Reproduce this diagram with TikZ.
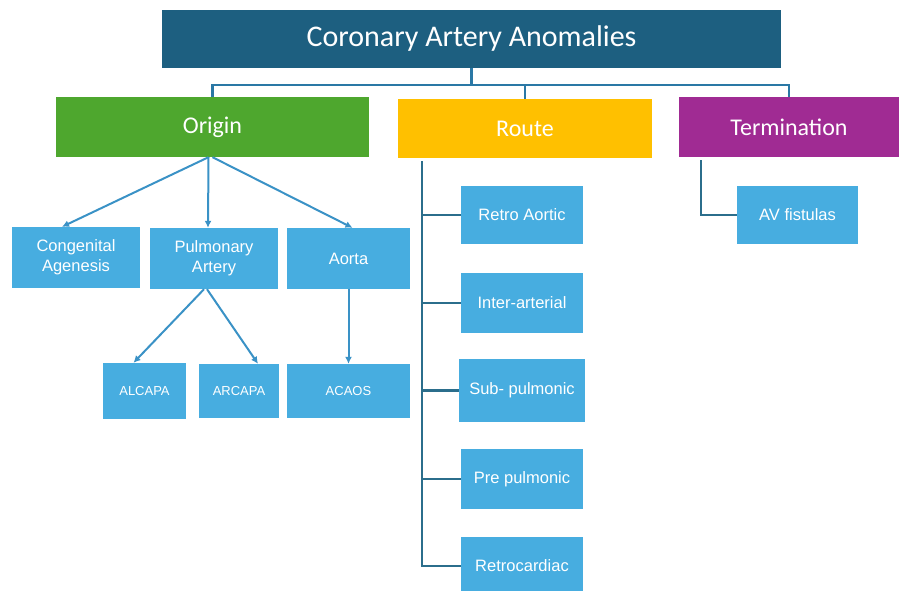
\documentclass[tikz,border=0pt]{standalone}
\usepackage{fontspec}
\setmainfont{Liberation Sans}
\newfontfamily\headfont{Carlito}
\usetikzlibrary{arrows.meta,calc}
\definecolor{titleblue}{HTML}{1D5F80}
\definecolor{orgreen}{HTML}{4EA72E}
\definecolor{routeyel}{HTML}{FFC000}
\definecolor{termpurp}{HTML}{A02B93}
\definecolor{boxblue}{HTML}{47ADE0}
\definecolor{busblue}{HTML}{2A78A5}
\definecolor{treeline}{HTML}{2B6E8C}
\definecolor{arrblue}{HTML}{3A92C6}
\tikzset{
  x=1pt, y=-1pt,
  anybox/.style={rectangle, inner sep=0pt, text=white, align=center},
  headbox/.style={anybox, font=\headfont\fontsize{24}{27}\selectfont},
  subbox/.style={anybox, fill=boxblue, font=\fontsize{16.5}{20}\selectfont},
  smallbox/.style={anybox, fill=boxblue, font=\fontsize{13}{15}\selectfont},
  busline/.style={draw=busblue, line width=2.4pt},
  treeconn/.style={draw=treeline, line width=2.2pt},
  arrconn/.style={draw=arrblue, line width=2pt, -{Latex[length=7pt,width=7pt]}},
}
\begin{document}
\begin{tikzpicture}
\useasboundingbox (0,0) rectangle (899,591);
% title
\node[anybox, fill=titleblue, minimum width=619pt, minimum height=58pt,
      font=\headfont\fontsize{30}{33}\selectfont] (title) at (471.5,39) {Coronary Artery Anomalies};
% level 1
\node[headbox, fill=orgreen, minimum width=313pt, minimum height=60pt] (origin) at (212.5,127) {Origin};
\node[headbox, fill=routeyel, minimum width=254pt, minimum height=59pt] (route) at (525,128.5) {Route};
\node[headbox, fill=termpurp, minimum width=220pt, minimum height=60pt] (term) at (789,127) {Termination};
% origin children
\node[subbox, minimum width=128pt, minimum height=61pt] (cong) at (76,257.5) {Congenital\\Agenesis};
\node[subbox, minimum width=128pt, minimum height=61pt] (pulm) at (214,258.5) {Pulmonary\\Artery};
\node[subbox, minimum width=123pt, minimum height=61pt] (aorta) at (348.5,258.5) {Aorta};
\node[smallbox, minimum width=83pt, minimum height=56pt] (alcapa) at (144.5,391) {ALCAPA};
\node[smallbox, minimum width=80pt, minimum height=54pt] (arcapa) at (239,391) {ARCAPA};
\node[smallbox, minimum width=123pt, minimum height=54pt] (acaos) at (348.5,391) {ACAOS};
% route children
\node[subbox, minimum width=122pt, minimum height=58pt] (retroao) at (522,215) {Retro Aortic};
\node[subbox, minimum width=122pt, minimum height=60pt] (inter) at (522,303) {Inter-arterial};
\node[subbox, minimum width=126pt, minimum height=63pt] (subp) at (522,390.5) {Sub- pulmonic};
\node[subbox, minimum width=122pt, minimum height=60pt] (prep) at (522,479) {Pre pulmonic};
\node[subbox, minimum width=122pt, minimum height=58pt] (retroc) at (522,566) {Retrocardiac};
% termination child
\node[subbox, minimum width=121pt, minimum height=58pt] (av) at (797.5,215) {AV fistulas};
% bus from title
\coordinate (bus) at (471.5,85);
\draw[busline] (title.south) -- (bus);
\draw[busline] (origin.north) |- (bus);
\draw[busline] (bus) -| (route.north);
\draw[busline] (bus) -| (term.north);
% origin arrows
\draw[arrconn] ([xshift=-4pt]origin.south) -- ([xshift=-14pt]cong.north);
\draw[arrconn] ([xshift=-4pt]origin.south) -- ([xshift=-6pt]pulm.north);
\draw[arrconn] ([xshift=0pt]origin.south) -- ([xshift=4pt]aorta.north);
\draw[arrconn] ([xshift=-10pt]pulm.south) -- ([xshift=-11pt]alcapa.north);
\draw[arrconn] ([xshift=-7pt]pulm.south) -- ([xshift=19pt]arcapa.north);
\draw[arrconn] (aorta.south) -- (acaos.north);
% route tree
\coordinate (spine) at ($(route.south west)+(24,3)$);
\draw[treeconn] (spine) |- (retroc.west);
\draw[treeconn] (retroao.west) -- (retroao.west -| spine);
\draw[treeconn] (inter.west) -- (inter.west -| spine);
\draw[treeconn] (subp.west) -- (subp.west -| spine);
\draw[treeconn] (prep.west) -- (prep.west -| spine);
% termination tree
\coordinate (tspine) at ($(term.south west)+(22,3)$);
\draw[treeconn] (tspine) |- (av.west);
\end{tikzpicture}
\end{document}
